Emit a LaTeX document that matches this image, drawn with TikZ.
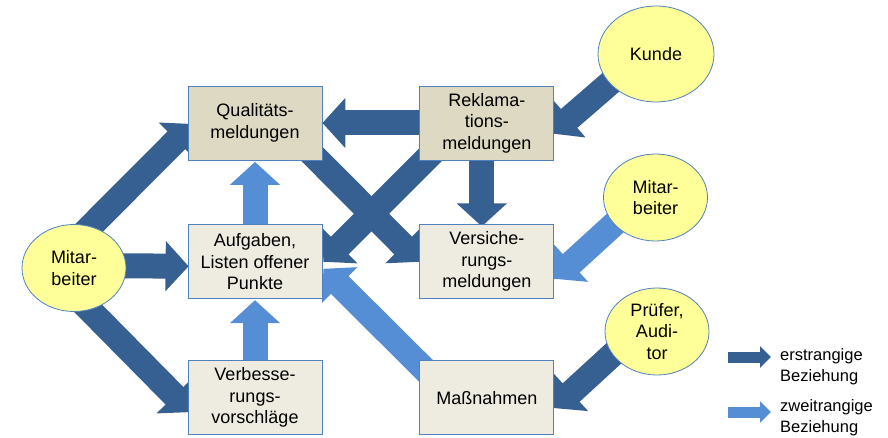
\documentclass[tikz,border=0pt]{standalone}
\usepackage{fontspec}
\setmainfont{Liberation Sans}
\usetikzlibrary{positioning, arrows.meta, calc, shapes.geometric, backgrounds}
\definecolor{prim}{HTML}{376092}
\definecolor{secd}{HTML}{558ED5}
\definecolor{frame}{HTML}{4F81BD}
\definecolor{sand}{HTML}{DDD9C3}
\definecolor{paper}{HTML}{EEECE1}
\definecolor{lemon}{HTML}{FFFF99}

\begin{document}
\begin{tikzpicture}[
  x=1pt, y=-1pt,
  every node/.style={font=\fontsize{18}{21.5}\selectfont},
  blk/.style      = {rectangle, align=center, draw=frame, line width=0.8pt, inner sep=0pt, minimum width=134pt, minimum height=74pt},
  rep/.style      = {blk, fill=sand},
  lst/.style      = {blk, fill=paper},
  actor/.style    = {ellipse, align=center, draw=frame, line width=0.8pt, fill=lemon, inner sep=-6pt, minimum width=104pt, minimum height=87pt},
  major/.style    = {-{Triangle[length=23pt, width=49pt]}, line width=25pt, prim},
  minor/.style    = {major, secd},
  legmajor/.style = {-{Triangle[length=11pt, width=21pt]}, line width=11pt, prim},
  legminor/.style = {legmajor, secd},
  legtxt/.style   = {anchor=west, align=left, inner sep=0pt, font=\fontsize{16.5}{21}\selectfont},
]
  \useasboundingbox (0,0) rectangle (888,438);

  % report boxes: two columns, three rows
  \node[rep]                       (qual) at (255,123) {Qualitäts-\\meldungen};
  \node[rep, right=97pt of qual]   (rekl)  {Reklama-\\tions-\\meldungen};
  \node[lst, below=64pt of qual]   (aufg)  {Aufgaben,\\Listen offener\\Punkte};
  \node[lst, below=64pt of rekl]   (vers)  {Versiche-\\rungs-\\meldungen};
  \node[lst, below=61pt of aufg]   (verb)  {Verbesse-\\rungs-\\vorschläge};
  \node[lst, below=61pt of vers]   (mass)  {Maßnahmen};

  % sources
  \node[actor] (mitL)  at (74,268)     {Mitar-\\beiter};
  \node[actor, minimum width=116pt, minimum height=96pt] (kunde) at (656,54) {Kunde};
  \node[actor] (mitR)  at (655.5,197.5) {Mitar-\\beiter};
  \node[actor] (pruef) at (657,331.5)   {Prüfer,\\Audi-\\tor};

  % legend
  \coordinate (keyA) at (728,357);
  \coordinate (keyB) at (771,357);
  \coordinate (keyC) at (728,412);
  \coordinate (keyD) at (771,412);
  \node[legtxt] (keymaj) at (780,367) {erstrangige\\Beziehung};
  \node[legtxt] (keymin) at (780,418) {zweitrangige\\Beziehung};
  \draw[legmajor] (keyA) -- (keyB);
  \draw[legminor] (keyC) -- (keyD);

  \begin{scope}[on background layer]
    % second-rank links
    \draw[minor] (aufg.center) -- ($(qual.south)+(0,1.5)$);
    \draw[minor] (verb.center) -- ($(aufg.south)+(0,1)$);
    \draw[minor] ($(mass)+(-45.5,-11.5)$) -- ($(aufg.east)+(1,7)$);
    \draw[minor] ($(mitR)+(-32,18)$) -- ($(vers.east)+(0,17)$);
    % first-rank links
    \draw[major] ($(mitL)+(1,-26)$) -- ($(qual.west)+(5,1)$);
    \draw[major] ($(mitL)+(20,-2.5)$) -- ($(aufg.west)+(1,4.5)$);
    \draw[major] ($(mitL)+(1,27)$) -- ($(verb.west)+(3,14.5)$);
    \draw[major] (rekl.center) -- (qual.east);
    \draw[major] ($(rekl)+(-5,0)$) -- ($(vers.north)+(-5,2)$);
    \draw[major] ($(rekl)+(-45.5,21)$) -- ($(aufg.east)+(1,0)$);
    \draw[major] ($(qual)+(47,21)$) -- (vers.west);
    \draw[major] ($(kunde)+(-31.5,16.5)$) -- ($(rekl.east)+(-2.5,10.5)$);
    \draw[major] ($(pruef)+(-33.5,13)$) -- ($(mass.east)+(0,10.5)$);
  \end{scope}
\end{tikzpicture}
\end{document}
